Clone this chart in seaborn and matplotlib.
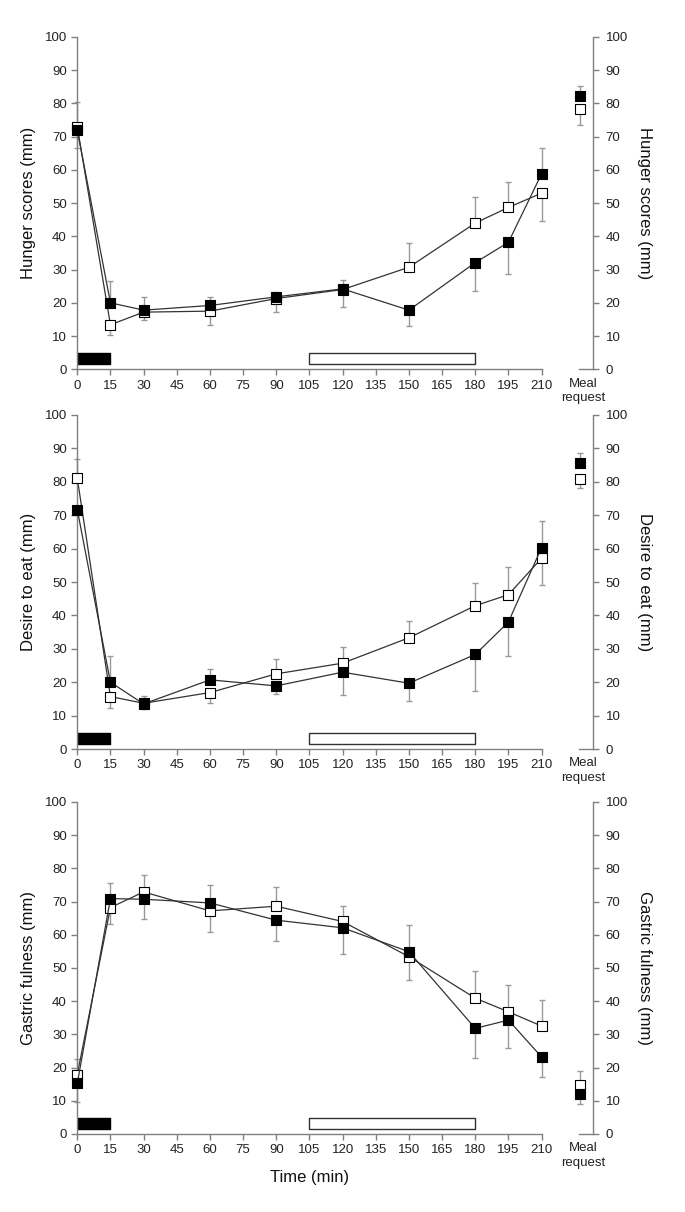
import numpy as np
import pandas as pd
import seaborn as sns
import matplotlib.pyplot as plt

times = [0, 15, 30, 60, 90, 120, 150, 180, 195, 210]
xticks = list(range(0, 211, 15))

# hunger
hunger_filled = [72.0, 20.0, 17.8, 19.2, 21.8, 24.2, 17.8, 32.1, 38.2, 58.8]
hunger_open = [73.0, 13.4, 17.2, 17.5, 21.3, 24.0, 30.7, 44.0, 48.7, 53.0]
hunger_hi = [80.5, 26.6, 21.7, 21.8, 23.4, 26.8, 38.1, 51.7, 56.5, 66.6]
hunger_lo = [66.5, 10.3, 14.8, 13.3, 17.1, 18.8, 13.1, 23.6, 28.8, 44.6]
hunger_meal = [82.1, 78.3]
hunger_meal_err = [85.1, 73.5]

# desire to eat
desire_filled = [71.7, 20.0, 13.5, 20.7, 18.9, 23.0, 19.7, 28.3, 38.0, 60.3]
desire_open = [81.1, 15.7, 13.7, 16.9, 22.5, 25.7, 33.3, 42.9, 46.2, 57.1]
desire_hi = [86.9, 27.7, 16.0, 23.9, 26.9, 30.5, 38.3, 49.6, 54.5, 68.2]
desire_lo = [70.0, 12.2, 12.0, 13.8, 16.5, 16.1, 14.3, 17.5, 27.9, 49.0]
desire_meal = [85.7, 80.7]
desire_meal_err = [88.5, 78.0]

# gastric fulness
gastric_filled = [15.2, 70.9, 70.7, 69.6, 64.4, 62.1, 54.9, 31.8, 34.3, 23.2]
gastric_open = [17.9, 68.2, 72.9, 67.2, 68.6, 64.0, 53.4, 40.9, 36.8, 32.5]
gastric_hi = [22.5, 75.7, 78.0, 75.1, 74.4, 68.7, 63.0, 49.2, 44.9, 40.4]
gastric_lo = [9.5, 63.3, 64.6, 60.7, 58.0, 54.2, 46.5, 22.9, 26.0, 17.3]
gastric_meal = [12.0, 14.7]
gastric_meal_err = [19.0, 9.0]

panels = [
    ("Hunger scores (mm)", hunger_filled, hunger_open, hunger_hi, hunger_lo, hunger_meal, hunger_meal_err),
    ("Desire to eat (mm)", desire_filled, desire_open, desire_hi, desire_lo, desire_meal, desire_meal_err),
    ("Gastric fulness (mm)", gastric_filled, gastric_open, gastric_hi, gastric_lo, gastric_meal, gastric_meal_err),
]

sns.set_style("ticks")
plt.rcParams['font.family'] = ['Liberation Sans', 'DejaVu Sans']

grey = '#808080'
err_col = '#999999'
line_col = '#333333'

fig = plt.figure(figsize=(6.85, 12.12), dpi=100)

# (bottom, height) of each panel in figure fraction
rows = [(0.6953, 0.2742), (0.3820, 0.2756), (0.0644, 0.2739)]


def style_axis(ax):
    for s in ['top', 'right', 'left', 'bottom']:
        ax.spines[s].set_color(grey)
        ax.spines[s].set_linewidth(1.0)
    ax.tick_params(colors=grey, labelcolor='#222222', labelsize=9.5, length=4, width=1.0)


def draw_err(ax, x, a, b, hi, lo):
    top = np.maximum(a, b)
    bot = np.minimum(a, b)
    x = np.asarray(x)
    ax.errorbar(x, top, yerr=[np.zeros_like(top), np.asarray(hi) - top], fmt='none',
                ecolor=err_col, elinewidth=1.0, capsize=2.3, capthick=1.0, zorder=1, clip_on=False)
    ax.errorbar(x, bot, yerr=[bot - np.asarray(lo), np.zeros_like(bot)], fmt='none',
                ecolor=err_col, elinewidth=1.0, capsize=2.3, capthick=1.0, zorder=1, clip_on=False)


for i, (label, filled, opn, hi, lo, meal, meal_err) in enumerate(panels):
    bottom, height = rows[i]
    ax = fig.add_axes([0.1128, bottom, 0.6778, height])
    df = pd.DataFrame({'time': times, 'filled': filled, 'open': opn})

    draw_err(ax, times, np.array(filled), np.array(opn), hi, lo)

    sns.lineplot(data=df, x='time', y='open', ax=ax, color=line_col, lw=0.9, zorder=2)
    sns.scatterplot(data=df, x='time', y='open', ax=ax, marker='s', s=62, color='white',
                    edgecolor='black', linewidth=0.8, zorder=3, clip_on=False)
    sns.lineplot(data=df, x='time', y='filled', ax=ax, color=line_col, lw=0.9, zorder=4)
    sns.scatterplot(data=df, x='time', y='filled', ax=ax, marker='s', s=62, color='black',
                    edgecolor='black', linewidth=0.8, zorder=5, clip_on=False)

    # infusion / meal period bars
    ax.broken_barh([(0, 15)], (1.5, 3.3), facecolor='black', edgecolor='black', lw=1.0, zorder=2)
    ax.broken_barh([(105, 75)], (1.5, 3.3), facecolor='white', edgecolor='#333333', lw=1.0, zorder=2)

    ax.set_xlim(0, 210)
    ax.set_ylim(0, 100)
    ax.set_xticks(xticks)
    ax.set_yticks(range(0, 101, 10))
    sns.despine(ax=ax)
    style_axis(ax)
    ax.set_xlabel('')
    ax.set_ylabel(label, fontsize=12, color='#111111', labelpad=6)
    if i == 2:
        ax.set_xlabel('Time (min)', fontsize=12, color='#111111', labelpad=10)

    # meal request inset
    axm = fig.add_axes([0.8277, bottom, 0.0384, height])
    axm.set_xlim(0, 1)
    axm.set_ylim(0, 100)
    axm.errorbar([0.5], [max(meal)], yerr=[[0], [meal_err[0] - max(meal)]], fmt='none',
                 ecolor=err_col, elinewidth=1.0, capsize=2.3, capthick=1.0, zorder=1)
    axm.errorbar([0.5], [min(meal)], yerr=[[min(meal) - meal_err[1]], [0]], fmt='none',
                 ecolor=err_col, elinewidth=1.0, capsize=2.3, capthick=1.0, zorder=1)
    sns.scatterplot(x=[0.5], y=[meal[1]], ax=axm, marker='s', s=62, color='white',
                    edgecolor='black', linewidth=0.8, zorder=3, clip_on=False)
    sns.scatterplot(x=[0.5], y=[meal[0]], ax=axm, marker='s', s=62, color='black',
                    edgecolor='black', linewidth=0.8, zorder=5, clip_on=False)
    axm.spines['left'].set_visible(False)
    axm.spines['top'].set_visible(False)
    axm.spines['bottom'].set_bounds(0.45, 1.0)
    axm.yaxis.tick_right()
    axm.yaxis.set_label_position('right')
    axm.set_yticks(range(0, 101, 10))
    axm.set_xticks([0.62])
    axm.set_xticklabels(['Meal\nrequest'], linespacing=1.25)
    style_axis(axm)
    axm.tick_params(axis='x', length=0, pad=6, labelsize=9.5)
    axm.tick_params(axis='y', pad=5)
    axm.set_xlabel('')
    axm.set_ylabel(label, fontsize=12, color='#111111', rotation=270, labelpad=17)

fig.savefig('out.png', dpi=100)
